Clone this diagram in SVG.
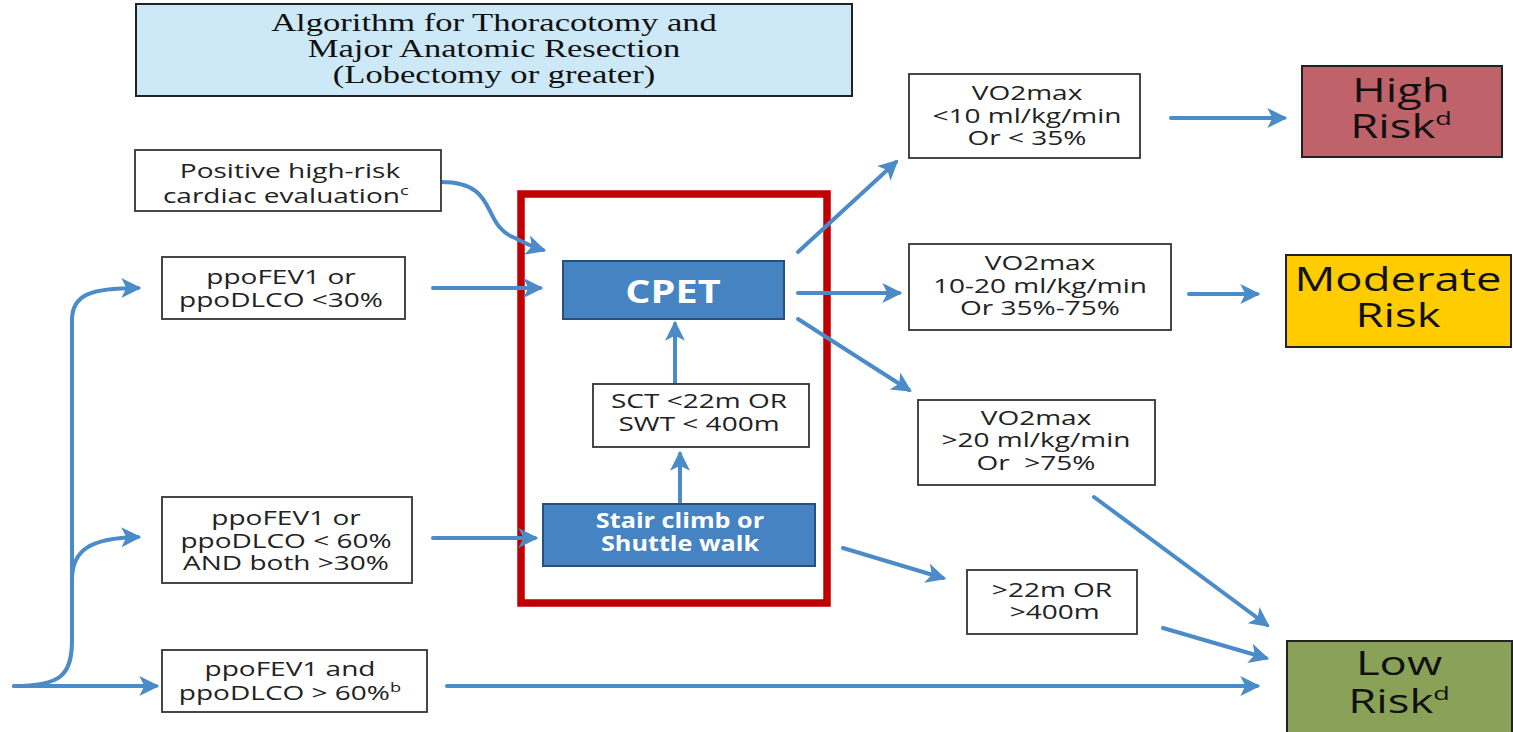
<svg xmlns="http://www.w3.org/2000/svg" width="1513" height="732" viewBox="0 0 1513 732">
<style>
.box{fill:#fff;stroke:#333;stroke-width:1.8}
.t{font-family:"Open Sans","Liberation Sans",sans-serif;font-size:20px;fill:#222;text-anchor:middle}
.title{font-family:"Liberation Serif",serif;font-size:26px;fill:#111;text-anchor:middle}
.blue{fill:#4683c2;stroke:#2a4f7a;stroke-width:2}
.wt{font-family:"Open Sans","Liberation Sans",sans-serif;font-weight:bold;fill:#fff;text-anchor:middle}
.risk{font-family:"Open Sans","Liberation Sans",sans-serif;font-size:32px;fill:#111;text-anchor:middle}
.c{fill:none;stroke:#4a8bc8;stroke-width:4;stroke-linecap:round}
.sup{font-size:13px}
.rsup{font-size:19px}
</style>
<defs>
<marker id="ah" viewBox="0 0 12 12" refX="10" refY="6" markerWidth="5" markerHeight="5" orient="auto" markerUnits="strokeWidth">
<path d="M0,0 L12,6 L0,12 L3,6 Z" fill="#4a8bc8"/>
</marker>
</defs>

<g id="title">
<rect x="136" y="4" width="716" height="92" fill="#cde9f8" stroke="#222" stroke-width="2"/>
<g transform="translate(494,0) scale(1.33,1)">
<text class="title" x="0" y="31">Algorithm for Thoracotomy and</text>
<text class="title" x="0" y="57">Major Anatomic Resection</text>
<text class="title" x="0" y="83">(Lobectomy or greater)</text>
</g>
</g>

<g id="redframe">
<rect x="521" y="194" width="306" height="409" fill="none" stroke="#c00000" stroke-width="7.5"/>
</g>

<g id="connectors">
<path class="c" d="M14,686 L156,686" marker-end="url(#ah)"/>
<path class="c" d="M14,686 C60,686 72,676 72,640 L72,320 C72,295 90,288 138,288" marker-end="url(#ah)"/>
<path class="c" d="M72,580 C72,550 90,538 138,537" marker-end="url(#ah)"/>
<path class="c" d="M441,182 C500,182 480,225 515,238 Q530,246 543,250" marker-end="url(#ah)"/>
<path class="c" d="M433,288 L540,288" marker-end="url(#ah)"/>
<path class="c" d="M433,538 L535,538" marker-end="url(#ah)"/>
<path class="c" d="M447,686 L1257,686" marker-end="url(#ah)"/>
<path class="c" d="M680,502 L680,454" marker-end="url(#ah)"/>
<path class="c" d="M675,383 L675,324" marker-end="url(#ah)"/>
<path class="c" d="M798,252 L896,162" marker-end="url(#ah)"/>
<path class="c" d="M798,293 L899,293" marker-end="url(#ah)"/>
<path class="c" d="M798,319 L909,390" marker-end="url(#ah)"/>
<path class="c" d="M1171,118 L1284,118" marker-end="url(#ah)"/>
<path class="c" d="M1189,294 L1257,294" marker-end="url(#ah)"/>
<path class="c" d="M1094,497 L1267,625" marker-end="url(#ah)"/>
<path class="c" d="M843,548 L943,578" marker-end="url(#ah)"/>
<path class="c" d="M1163,628 L1266,658" marker-end="url(#ah)"/>
</g>

<g id="cardiac">
<rect class="box" x="135" y="150" width="306" height="61"/>
<g transform="translate(290,0) scale(1.4,1)">
<text class="t" x="0" y="178">Positive high-risk</text>
<text class="t" x="-3" y="203">cardiac evaluation<tspan class="sup" dy="-8">c</tspan></text>
</g>
</g>

<g id="ppo30">
<rect class="box" x="162" y="257" width="243" height="62"/>
<g transform="translate(281,0) scale(1.4,1)">
<text class="t" x="0" y="284">ppoFEV1 or</text>
<text class="t" x="0" y="307">ppoDLCO &lt;30%</text>
</g>
</g>

<g id="ppo60">
<rect class="box" x="162" y="497" width="250" height="86"/>
<g transform="translate(286,0) scale(1.4,1)">
<text class="t" x="0" y="525">ppoFEV1 or</text>
<text class="t" x="0" y="548">ppoDLCO &lt; 60%</text>
<text class="t" x="0" y="570">AND both &gt;30%</text>
</g>
</g>

<g id="ppoGt60">
<rect class="box" x="162" y="650" width="265" height="62"/>
<g transform="translate(290,0) scale(1.4,1)">
<text class="t" x="0" y="676">ppoFEV1 and</text>
<text class="t" x="0" y="700">ppoDLCO &gt; 60%<tspan class="sup" dy="-8">b</tspan></text>
</g>
</g>

<g id="cpet">
<rect class="blue" x="563" y="261" width="221" height="58"/>
<g transform="translate(673,0) scale(1.24,1)">
<text class="wt" x="0" y="303" font-size="32">CPET</text>
</g>
</g>

<g id="sct">
<rect class="box" x="593" y="384" width="216" height="63"/>
<g transform="translate(699,0) scale(1.4,1)">
<text class="t" x="0" y="408">SCT &lt;22m OR</text>
<text class="t" x="0" y="431">SWT &lt; 400m</text>
</g>
</g>

<g id="stair">
<rect class="blue" x="543" y="504" width="272" height="62"/>
<g transform="translate(680,0) scale(1.2,1)">
<text class="wt" x="0" y="528" font-size="21">Stair climb or</text>
<text class="wt" x="0" y="551" font-size="21">Shuttle walk</text>
</g>
</g>

<g id="vo2low">
<rect class="box" x="909" y="74" width="231" height="84"/>
<g transform="translate(1027,0) scale(1.4,1)">
<text class="t" x="0" y="100">VO2max</text>
<text class="t" x="0" y="123">&lt;10 ml/kg/min</text>
<text class="t" x="0" y="145">Or &lt; 35%</text>
</g>
</g>

<g id="vo2mid">
<rect class="box" x="909" y="244" width="262" height="86"/>
<g transform="translate(1040,0) scale(1.4,1)">
<text class="t" x="0" y="270">VO2max</text>
<text class="t" x="0" y="293">10-20 ml/kg/min</text>
<text class="t" x="0" y="315">Or 35%-75%</text>
</g>
</g>

<g id="vo2high">
<rect class="box" x="918" y="400" width="237" height="85"/>
<g transform="translate(1036,0) scale(1.4,1)">
<text class="t" x="0" y="425">VO2max</text>
<text class="t" x="0" y="447">&gt;20 ml/kg/min</text>
<text class="t" x="0" y="470" xml:space="preserve">Or  &gt;75%</text>
</g>
</g>

<g id="walkok">
<rect class="box" x="967" y="570" width="170" height="64"/>
<g transform="translate(1052,0) scale(1.4,1)">
<text class="t" x="0" y="597">&gt;22m OR</text>
<text class="t" x="2" y="619">&gt;400m</text>
</g>
</g>

<g id="highrisk">
<rect x="1302" y="66" width="200" height="91" fill="#c0626a" stroke="#222" stroke-width="2"/>
<g transform="translate(1401,0) scale(1.42,1)">
<text class="risk" x="0" y="102">High</text>
<text class="risk" x="0" y="138">Risk<tspan class="rsup" dy="-13">d</tspan></text>
</g>
</g>

<g id="modrisk">
<rect x="1286" y="255" width="225" height="92" fill="#ffcc00" stroke="#222" stroke-width="2"/>
<g transform="translate(1398,0) scale(1.42,1)">
<text class="risk" x="0" y="291">Moderate</text>
<text class="risk" x="0" y="327">Risk</text>
</g>
</g>

<g id="lowrisk">
<rect x="1287" y="641" width="225" height="95" fill="#8aa158" stroke="#222" stroke-width="2"/>
<g transform="translate(1399,0) scale(1.42,1)">
<text class="risk" x="0" y="675">Low</text>
<text class="risk" x="0" y="713">Risk<tspan class="rsup" dy="-13">d</tspan></text>
</g>
</g>
</svg>
